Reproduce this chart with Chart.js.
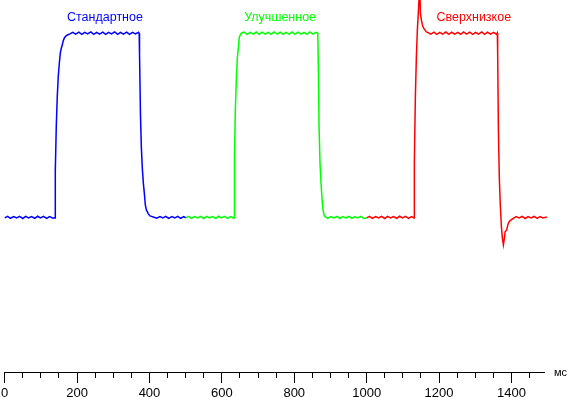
<!DOCTYPE html>
<html>
<head>
<meta charset="utf-8">
<script src="https://cdn.jsdelivr.net/npm/chart.js@4"></script>
<style>
	html, body { margin: 0; padding: 0; background: #fff; }
</style>
</head>
<body>
<canvas id="resp-canvas" width="569" height="397"></canvas>
<script>
// time in ms, level in % of the white/black step
const seriesNames = ["Стандартное", "Улучшенное", "Сверхнизкое"];

const standardTime = [
	0, 8, 16, 25, 33, 41, 50, 58, 66, 74, 83, 91, 99, 107, 116, 124, 132, 139,
	139.8, 142.6, 145.3, 148.1, 150.9, 153.6, 156.4, 159.2, 161.9, 164.7, 167.5, 172.1, 180.4,
	188, 196, 205, 213, 221, 229, 238, 246, 254, 262, 271, 279, 287, 295, 304, 312, 320, 328, 337, 345, 353, 361, 370, 371.5,
	372.5, 375, 377.5, 380.2, 383, 385.7, 388.5, 391.3, 394, 396.8, 401.5, 412.5,
	420, 429, 437, 445, 453, 462, 470, 478, 486, 495, 500,
];
const standardLevel = [
	0, 0.8, -0.2, 0.7, 0, 0.8, -0.3, 0.8, 0, 0.7, -0.2, 0.9, 0, 0.8, -0.3, 0.7, 0, 0,
	25.6, 50.4, 66.1, 77, 83.8, 89.3, 92, 93.8, 96.1, 97.4, 98.3, 99, 99.7,
	100.6, 99.6, 100.7, 99.5, 100.6, 99.7, 100.8, 99.5, 100.6, 99.6, 100.7, 99.5, 100.6, 99.7, 100.8, 99.5, 100.6, 99.6, 100.7, 99.5, 100.6, 99.7, 100.6, 100,
	89.1, 56.9, 38.5, 27.1, 19, 13.6, 7, 4.3, 3.4, 2.2, 1.1, 0.4,
	-0.2, 0.7, 0, 0.8, -0.3, 0.7, 0, 0.8, -0.2, 0.7, 0,
];

const improvedTime = [
	500, 508, 516, 525, 533, 541, 550, 558, 566, 574, 583, 591, 599, 607, 616, 624, 632, 634,
	634.8, 637.2, 640, 642.7, 645.5, 648.2, 651, 653.8,
	662, 670, 678, 687, 695, 703, 711, 720, 728, 736, 744, 753, 761, 769, 777, 786, 794, 802, 810, 819, 827, 835, 843, 852, 860, 865,
	866.5, 868.5, 871.2, 874, 876.8, 879.5, 882.3, 885,
	893, 901, 909, 918, 926, 934, 942, 951, 959, 967, 975, 984, 992, 1000,
];
const improvedLevel = [
	0, 0.8, -0.2, 0.7, 0, 0.8, -0.3, 0.8, 0, 0.7, -0.2, 0.9, 0, 0.8, -0.3, 0.7, 0, 0,
	33.2, 58.5, 75.2, 86.6, 92, 97.9, 99.2, 100.1,
	100.7, 99.5, 100.6, 99.6, 100.8, 99.5, 100.7, 99.6, 100.6, 99.5, 100.8, 99.6, 100.7, 99.5, 100.6, 99.6, 100.8, 99.5, 100.7, 99.6, 100.6, 99.5, 100.8, 99.6, 100.6, 100.2,
	82.9, 49.5, 29.6, 18.8, 9.8, 4.3, 1.6, 0.7,
	-0.2, 0.7, 0, 0.8, -0.3, 0.7, 0, 0.8, -0.2, 0.7, 0, 0.8, -0.3, 0,
];

const ultraLowTime = [
	1000, 1008, 1016, 1025, 1033, 1041, 1050, 1058, 1066, 1074, 1083, 1091, 1099, 1107, 1116, 1124, 1131,
	1131.8, 1134.6, 1137.4, 1140.1, 1142.9, 1145.7, 1147, 1148.4, 1151.2, 1154, 1156.7, 1159.5, 1162.3, 1165, 1169.7,
	1177, 1186, 1194, 1202, 1210, 1219, 1227, 1235, 1243, 1252, 1260, 1268, 1276, 1285, 1293, 1301, 1309, 1318, 1326, 1334, 1342, 1351, 1359, 1361,
	1362, 1364, 1366.7, 1369.5, 1372.3, 1375, 1377.8, 1380.6, 1382.5, 1387.1, 1389.9, 1393.5, 1399, 1405.3,
	1413, 1421, 1430, 1438, 1446, 1454, 1463, 1471, 1479, 1487, 1498,
];
const ultraLowLevel = [
	0, 0.8, -0.2, 0.7, 0, 0.8, -0.3, 0.8, 0, 0.7, -0.2, 0.9, 0, 0.8, -0.3, 0.7, 0,
	30.2, 65.7, 87.4, 101.9, 111.8, 122, 126, 111, 107.3, 104.6, 103.1, 102.3, 101.5, 100.8, 100.4,
	99.6, 100.7, 99.5, 100.6, 99.6, 100.8, 99.5, 100.7, 99.6, 100.6, 99.5, 100.8, 99.6, 100.7, 99.5, 100.6, 99.6, 100.8, 99.5, 100.7, 99.6, 100.6, 99.5, 100.2,
	89.3, 47.7, 20.6, 6.1, -4.7, -11, -14.6, -11, -7.5, -6.5, -3.8, -2, -1.1, -0.2,
	0.7, 0, 0.8, -0.3, 0.7, 0, 0.8, -0.2, 0.7, 0, 0.5,
];

const xTicksMajor = 200;
const xTicksMinor = 50;
const xUnit = "мс";

const colors = ["#0000ff", "#00ff00", "#ff0000"];
const labelAt = [277, 761, 1296];

function toPoints(times, levels) {
	return times.map((t, i) => ({ x: t, y: levels[i] }));
}

const seriesLabels = {
	id: "seriesLabels",
	afterDraw(chart) {
		const ctx = chart.ctx;
		const x = chart.scales.x;
		ctx.save();
		ctx.font = "12.5px 'Liberation Sans', Arial, sans-serif";
		ctx.textAlign = "center";
		ctx.textBaseline = "alphabetic";
		seriesNames.forEach((name, i) => {
			ctx.fillStyle = colors[i];
			ctx.fillText(name, x.getPixelForValue(labelAt[i]), 21);
		});
		ctx.fillStyle = "#000";
		ctx.font = "11px 'Liberation Sans', Arial, sans-serif";
		ctx.textAlign = "left";
		ctx.fillText(xUnit, x.right + 10, x.top + 4);
		ctx.restore();
	},
};

const respCanvas = document.getElementById("resp-canvas").getContext("2d");

Chart.defaults.font.family = "'Liberation Sans', Arial, sans-serif";
Chart.defaults.font.size = 13;
Chart.defaults.color = "#000";

const respChart = new Chart(respCanvas, {
	type: "line",
	data: {
		datasets: [
			{ label: seriesNames[0], data: toPoints(standardTime, standardLevel) },
			{ label: seriesNames[1], data: toPoints(improvedTime, improvedLevel) },
			{ label: seriesNames[2], data: toPoints(ultraLowTime, ultraLowLevel) },
		].map((ds, i) => ({
			...ds,
			borderColor: colors[i],
			borderWidth: 1.5,
			pointRadius: 0,
			tension: 0,
			fill: false,
			clip: false,
		})),
	},
	options: {
		responsive: false,
		animation: false,
		layout: {
			padding: { left: 4.7, right: 25, top: 0, bottom: 0 },
		},
		plugins: {
			legend: { display: false },
			tooltip: { enabled: false },
		},
		scales: {
			x: {
				type: "linear",
				min: 0,
				max: 1490,
				border: { display: true, color: "#000", width: 1 },
				grid: {
					display: true,
					drawOnChartArea: false,
					drawTicks: true,
					tickLength: 11,
					tickColor: "#000",
					tickWidth: 1,
					tickBorderDash: (c) => (c.tick && c.tick.value % xTicksMajor === 0 ? [] : [5, 50]),
				},
				ticks: {
					stepSize: xTicksMinor,
					includeBounds: false,
					autoSkip: false,
					maxRotation: 0,
					padding: 1,
					font: { size: 13, lineHeight: 1.4 },
					callback: (v) => (v % xTicksMajor === 0 ? String(v) : ""),
				},
				afterFit(scale) {
					scale.height = 25;
				},
			},
			y: {
				display: false,
				min: -83.5,
				max: 118.1,
			},
		},
	},
	plugins: [seriesLabels],
});
</script>
</body>
</html>
